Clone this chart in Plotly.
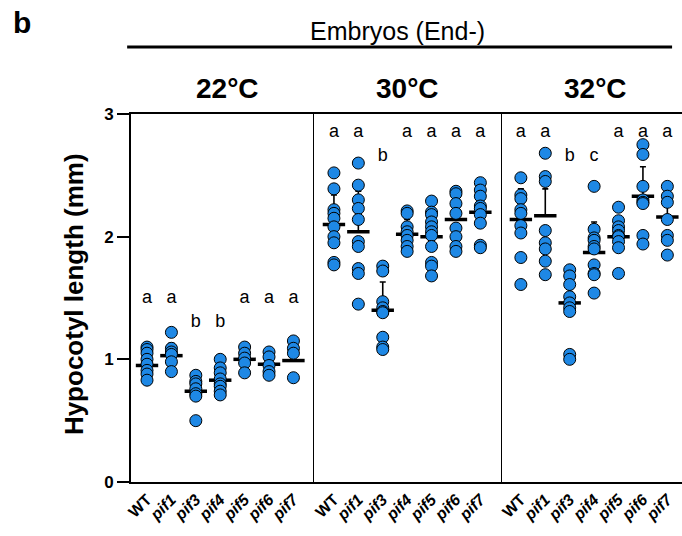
import plotly.graph_objects as go

# ---------------- data ----------------
genotypes = ["WT", "pif1", "pif3", "pif4", "pif5", "pif6", "pif7"]
tick_text = ["WT", "<i>pif1</i>", "<i>pif3</i>", "<i>pif4</i>", "<i>pif5</i>", "<i>pif6</i>", "<i>pif7</i>"]
temperatures = ["22°C", "30°C", "32°C"]

hyp_22 = [
    [1.10, 1.08, 1.05, 1.00, 0.96, 0.91, 0.88, 0.83],
    [1.22, 1.09, 1.06, 1.04, 0.98, 0.90],
    [0.87, 0.82, 0.80, 0.76, 0.72, 0.70, 0.50],
    [1.00, 0.93, 0.89, 0.84, 0.80, 0.78, 0.74, 0.71],
    [1.10, 1.05, 1.01, 0.97, 0.89],
    [1.06, 1.02, 0.95, 0.90, 0.87],
    [1.15, 1.09, 1.05, 0.85],
]
hyp_30 = [
    [2.52, 2.39, 2.22, 2.19, 2.15, 2.08, 2.00, 1.95, 1.79, 1.77],
    [2.60, 2.42, 2.30, 2.23, 2.14, 1.96, 1.92, 1.74, 1.70, 1.45],
    [1.76, 1.72, 1.47, 1.42, 1.39, 1.38, 1.18, 1.10, 1.08],
    [2.21, 2.19, 2.08, 2.04, 2.01, 1.97, 1.92, 1.88],
    [2.29, 2.20, 2.18, 2.12, 2.08, 2.04, 2.01, 1.92, 1.79, 1.76, 1.68],
    [2.37, 2.35, 2.27, 2.19, 2.07, 2.00, 1.92, 1.88],
    [2.44, 2.38, 2.33, 2.25, 2.23, 2.18, 2.11, 1.93, 1.91],
]
hyp_32 = [
    [2.48, 2.34, 2.31, 2.22, 2.19, 2.09, 2.03, 1.83, 1.61],
    [2.68, 2.49, 2.45, 2.05, 1.95, 1.90, 1.80, 1.69],
    [1.73, 1.68, 1.61, 1.51, 1.46, 1.42, 1.39, 1.04, 1.00],
    [2.41, 2.06, 1.99, 1.97, 1.92, 1.90, 1.77, 1.70, 1.69, 1.54],
    [2.24, 2.13, 2.08, 2.05, 2.01, 2.00, 1.96, 1.91, 1.70],
    [2.75, 2.67, 2.41, 2.30, 2.28, 2.27, 2.01, 1.94],
    [2.41, 2.33, 2.28, 2.14, 2.01, 1.97, 1.85],
]
mean_22 = [0.95, 1.03, 0.74, 0.83, 1.00, 0.96, 0.99]
mean_30 = [2.10, 2.04, 1.40, 2.02, 2.00, 2.14, 2.20]
mean_32 = [2.14, 2.17, 1.46, 1.87, 2.00, 2.33, 2.16]
sd_22 = [0.09, 0.10, 0.11, 0.09, 0.08, 0.08, 0.11]
sd_30 = [0.24, 0.33, 0.23, 0.12, 0.19, 0.17, 0.18]
sd_32 = [0.25, 0.22, 0.23, 0.25, 0.16, 0.24, 0.19]
letters_22 = ["a", "a", "b", "b", "a", "a", "a"]
letters_30 = ["a", "a", "b", "a", "a", "a", "a"]
letters_32 = ["a", "a", "b", "c", "a", "a", "a"]
letter_y_22 = [1.50, 1.50, 1.30, 1.30, 1.50, 1.50, 1.50]
letter_y_30 = [2.85, 2.85, 2.65, 2.85, 2.85, 2.85, 2.85]
letter_y_32 = [2.85, 2.85, 2.65, 2.65, 2.85, 2.85, 2.85]
y_ticks = [0, 1, 2, 3]

# ---------------- figure ----------------
FONT = "Arial, Liberation Sans, Helvetica, sans-serif"
BLUE = "#1E88E5"

panels = [
    (hyp_22, mean_22, sd_22, letters_22, letter_y_22),
    (hyp_30, mean_30, sd_30, letters_30, letter_y_30),
    (hyp_32, mean_32, sd_32, letters_32, letter_y_32),
]
domains = [[0.0, 0.332], [0.332, 0.673], [0.673, 1.0]]
xranges = [[-0.656, 6.84], [-0.82, 6.88], [-0.78, 6.6]]

fig = go.Figure()
layout_axes = {}
for g, (data, means, sds, letters, letter_y) in enumerate(panels):
    suf = "" if g == 0 else str(g + 1)
    xa, ya = "x" + suf, "y" + suf
    pos = list(range(len(genotypes)))

    # mean bars + upper SD whiskers (behind the points)
    fig.add_trace(go.Scatter(
        x=pos, y=means, mode="markers", xaxis=xa, yaxis=ya,
        marker=dict(symbol="line-ew", size=16, color="black",
                    line=dict(width=3.5, color="black")),
        error_y=dict(type="data", array=sds, arrayminus=[0] * len(sds),
                     symmetric=False, thickness=1.6, width=3, color="black"),
        showlegend=False, hoverinfo="skip"))

    xs, ys = [], []
    for i, d in enumerate(data):
        xs += [i] * len(d)
        ys += d
    fig.add_trace(go.Scatter(
        x=xs, y=ys, mode="markers", xaxis=xa, yaxis=ya,
        marker=dict(size=12, color=BLUE, line=dict(color="black", width=1)),
        showlegend=False, cliponaxis=False))

    fig.add_trace(go.Scatter(
        x=pos, y=letter_y, mode="text", text=letters, xaxis=xa, yaxis=ya,
        textfont=dict(size=18, color="black", family=FONT),
        showlegend=False, hoverinfo="skip"))

    layout_axes["xaxis" + suf] = dict(
        domain=domains[g], range=xranges[g], anchor=ya,
        tickmode="array", tickvals=pos, ticktext=tick_text, tickangle=-45,
        tickfont=dict(size=16, family=FONT, color="black", weight="bold"),
        showline=True, linecolor="black", linewidth=2, mirror=True,
        ticks="", showgrid=False, zeroline=False)
    layout_axes["yaxis" + suf] = dict(
        range=[0, 3], anchor=xa, showgrid=False, zeroline=False,
        showline=True, linecolor="black", linewidth=2 if g == 0 else 1,
        tickmode="array", tickvals=y_ticks,
        ticks="outside" if g == 0 else "", ticklen=12, tickwidth=1.5,
        tickcolor="black", showticklabels=(g == 0),
        tickfont=dict(size=17, family=FONT, color="black", weight="bold"))

annotations = []
header_x = [0.53, 0.5, 0.52]
for g, t in enumerate(temperatures):
    suf = "" if g == 0 else str(g + 1)
    annotations.append(dict(
        text=t, xref="x" + suf + " domain", yref="paper",
        x=header_x[g], y=1.07, xanchor="center", yanchor="middle",
        showarrow=False, font=dict(size=28, family=FONT, color="black", weight="bold")))
annotations += [
    dict(text="Embryos (End-)", xref="paper", yref="paper", x=0.483, y=1.225,
         xanchor="center", yanchor="middle", showarrow=False,
         font=dict(size=25, family=FONT, color="black")),
    dict(text="b", xref="paper", yref="paper", x=-0.198, y=1.25,
         xanchor="center", yanchor="middle", showarrow=False,
         font=dict(size=30, family=FONT, color="black", weight="bold")),
    dict(text="Hypocotyl length (mm)", xref="paper", yref="paper", x=-0.102, y=0.51,
         xanchor="center", yanchor="middle", textangle=-90, showarrow=False,
         font=dict(size=26, family=FONT, color="black", weight="bold")),
]

fig.update_layout(
    width=682, height=536,
    margin=dict(l=131, r=0, t=114, b=54),
    paper_bgcolor="white", plot_bgcolor="white",
    font=dict(family=FONT, color="black"),
    annotations=annotations,
    shapes=[dict(type="line", xref="paper", yref="paper",
                 x0=-0.007, x1=0.982, y0=1.182, y1=1.182,
                 line=dict(color="black", width=3))],
    **layout_axes,
)

fig.write_html("out.html")
